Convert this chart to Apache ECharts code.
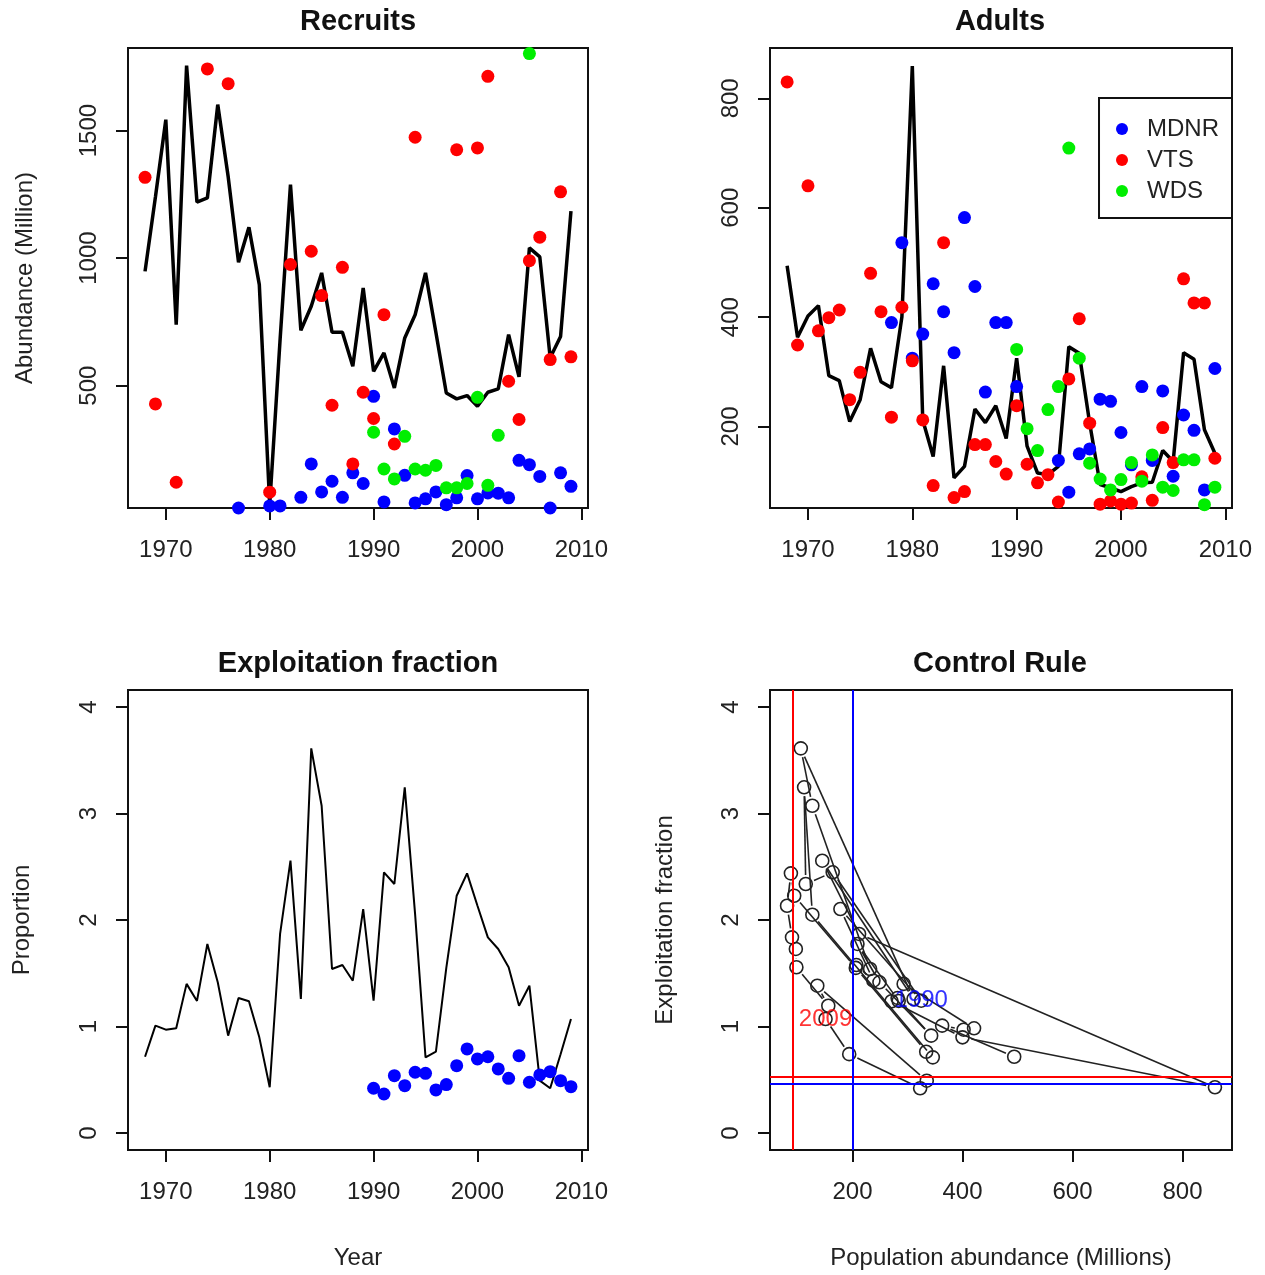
<!DOCTYPE html>
<html>
<head>
<meta charset="utf-8">
<title>Recruits, Adults, Exploitation fraction, Control Rule</title>
<script src="https://cdn.jsdelivr.net/npm/echarts@6.0.0/dist/echarts.min.js"></script>
<style>
    html, body { margin: 0; padding: 0; background: #fff; }
    #echarts { width: 1265px; height: 1275px; }
</style>
</head>
<body>
<div id="echarts"></div>
<script>
var years = [1968, 1969, 1970, 1971, 1972, 1973, 1974, 1975, 1976, 1977, 1978, 1979, 1980, 1981,
    1982, 1983, 1984, 1985, 1986, 1987, 1988, 1989, 1990, 1991, 1992, 1993, 1994, 1995,
    1996, 1997, 1998, 1999, 2000, 2001, 2002, 2003, 2004, 2005, 2006, 2007, 2008, 2009]

// Recruits (million)
var recruitsModel = [948, 1240, 1543, 739, 1755, 1220, 1236, 1602, 1320, 984, 1121, 896, 33, 680,
    1288, 717, 811, 942, 709, 709, 576, 883, 556, 628, 491, 687, 778, 942,
    708, 471, 448, 461, 419, 474, 487, 700, 534, 1040, 1005, 609, 693, 1184]
var recruitsMDNR = [null, null, null, null, null, null, null, null, null, 20, 15, 15, 28, 28,
    18, 62, 193, 83, 125, 62, 158, 116, 458, 44, 330, 148, 40, 56,
    83, 33, 60, 147, 56, 79, 78, 60, 207, 190, 144, 20, 158, 105]
var recruitsVTS = [1317, 428, null, 121, null, null, 1742, null, 1684, null, null, null, 82, null,
    975, null, 1027, 853, 423, 964, 193, 474, 371, 778, 271, null, 1474, null,
    null, null, 1425, 1831, 1432, 1713, null, 517, 367, 990, 1082, 602, 1260, 613]
var recruitsWDS = [null, null, null, null, null, null, null, null, null, null, null, null, null, null,
    null, null, null, null, null, null, null, null, 317, 173, 134, 301, 173, 168,
    187, 99, 99, 116, 454, 109, 305, null, null, 1802, null, null, null, null]

// Adults (million)
var adultsModel = [494, 363, 402, 421, 293, 284, 209, 249, 343, 282, 271, 400, 859, 212,
    145, 311, 106, 127, 232, 207, 238, 178, 325, 164, 115, 112, 127, 346,
    334, 206, 94, 88, 81, 90, 97, 98, 156, 136, 335, 323, 194, 151]
var adultsMDNR = [null, null, null, null, null, null, null, null, null, null, 390, 536, 325, 369,
    461, 410, 335, 582, 456, 263, 390, 390, 273, null, null, null, 138, 80,
    150, 159, 250, 246, 189, 130, 273, 138, 265, 109, 221, 193, 84, 306]
var adultsVTS = [830, 349, 640, 375, 399, 413, 249, 299, 480, 410, 217, 418, 320, 212,
    92, 536, 70, 81, 167, 167, 136, 113, 238, 131, 97, 112, 62, 287,
    397, 206, 58, 64, 58, 60, 108, 65, 198, 134, 470, 426, 426, 142]
var adultsWDS = [null, null, null, null, null, null, null, null, null, null, null, null, null, null,
    null, null, null, null, null, null, null, null, 341, 196, 156, 231, 273, 709,
    325, 133, 104, 84, 103, 134, 100, 148, 89, 83, 139, 139, 57, 89]

// Exploitation fraction
var exploitModel = [0.716, 1.008, 0.97, 0.983, 1.40, 1.24, 1.775, 1.415, 0.914, 1.268, 1.237, 0.898, 0.429, 1.869,
    2.557, 1.258, 3.612, 3.073, 1.54, 1.577, 1.43, 2.103, 1.242, 2.448, 2.338, 3.246, 2.05, 0.71,
    0.763, 1.55, 2.228, 2.438, 2.134, 1.837, 1.728, 1.556, 1.195, 1.383, 0.491, 0.42, 0.74, 1.07]
var exploitMDNR = [null, null, null, null, null, null, null, null, null, null, null, null, null, null,
    null, null, null, null, null, null, null, null, 0.42, 0.366, 0.538, 0.444, 0.57, 0.56,
    0.404, 0.454, 0.632, 0.789, 0.695, 0.716, 0.601, 0.513, 0.726, 0.476, 0.545, 0.576, 0.491, 0.435]

// control rule reference lines
var refAbundance = [91, 200]
var refExploit = [0.529, 0.46]
var refColors = ['#ff0000', '#0000ff']
var labelYears = [2009, 1990]

// tick labels
var yearTicks = [1970, 1980, 1990, 2000, 2010]
var recruitTicks = [500, 1000, 1500]
var adultTicks = [200, 400, 600, 800]
var exploitTicks = [0, 1, 2, 3, 4]
var abundanceTicks = [200, 400, 600, 800]

var font = '"Liberation Sans", Arial, Helvetica, sans-serif'
var chart = echarts.init(document.getElementById('echarts'))

var pairs = function (xs, ys) {
    var res = []
    for (var i = 0; i < xs.length; i++) {
        if (xs[i] == null || ys[i] == null) continue
        res.push([xs[i], ys[i]])
    }
    return res
}

var segments = []
for (var i = 0; i < years.length - 1; i++) {
    segments.push([adultsModel[i], exploitModel[i], adultsModel[i + 1], exploitModel[i + 1]])
}

var axis = function (grid, min, max, ticks, name, gap) {
    return {
        type: 'value',
        gridIndex: grid,
        min: min,
        max: max,
        name: name || '',
        nameLocation: 'middle',
        nameGap: gap || 0,
        nameTextStyle: {fontSize: 24, color: '#222', fontFamily: font},
        splitLine: {show: false},
        axisLine: {show: false, onZero: false},
        axisTick: {show: true, length: 12, customValues: ticks, lineStyle: {color: '#111', width: 2}},
        axisLabel: {
            customValues: ticks,
            fontSize: 24,
            color: '#222',
            fontFamily: font,
            formatter: function (v) { return String(v) }
        }
    }
}

var xAxes = [
    axis(0, 1966.36, 2010.64, yearTicks),
    axis(1, 1966.36, 2010.64, yearTicks),
    axis(2, 1966.36, 2010.64, yearTicks, 'Year', 96),
    axis(3, 50, 890, abundanceTicks, 'Population abundance (Millions)', 96)
]
var yAxes = [
    axis(0, 20, 1824, recruitTicks, 'Abundance (Million)', 91),
    axis(1, 51, 892, adultTicks),
    axis(2, -0.16, 4.16, exploitTicks, 'Proportion', 94),
    axis(3, -0.16, 4.16, exploitTicks, 'Exploitation fraction', 93)
]
xAxes.forEach(function (a) { a.axisLabel.margin = 30 })
yAxes.forEach(function (a) { a.axisLabel.margin = 27; a.axisLabel.rotate = 90 })

var grids = [
    {left: 128, top: 48, width: 460, height: 460},
    {left: 770, top: 48, width: 462, height: 460},
    {left: 128, top: 690, width: 460, height: 460},
    {left: 770, top: 690, width: 462, height: 460}
].map(function (g) {
    g.show = true
    g.borderColor = '#111'
    g.borderWidth = 2
    g.backgroundColor = 'transparent'
    g.outerBoundsMode = 'none'
    return g
})

var titles = [
    ['Recruits', 358, 7], ['Adults', 1000, 7],
    ['Exploitation fraction', 358, 649], ['Control Rule', 1000, 649]
].map(function (t) {
    return {
        text: t[0], left: t[1], top: t[2], textAlign: 'center', padding: 0,
        textStyle: {fontSize: 29, fontWeight: 'bold', color: '#111', fontFamily: font}
    }
})

var dots = function (name, color, grid, ys) {
    return {
        name: name,
        type: 'scatter',
        xAxisIndex: grid,
        yAxisIndex: grid,
        symbol: 'circle',
        symbolSize: 13,
        itemStyle: {color: color, opacity: 1},
        z: 3,
        data: pairs(years, ys)
    }
}

var curve = function (grid, ys, width) {
    return {
        type: 'line',
        xAxisIndex: grid,
        yAxisIndex: grid,
        showSymbol: false,
        lineStyle: {color: '#000', width: width},
        z: 2,
        data: pairs(years, ys)
    }
}

var refLines = []
for (var k = 0; k < refAbundance.length; k++) {
    refLines.push({xAxis: refAbundance[k], lineStyle: {color: refColors[k]}})
    refLines.push({yAxis: refExploit[k], lineStyle: {color: refColors[k]}})
}

var series = [
    curve(0, recruitsModel, 3.5),
    dots('MDNR', '#0000ff', 0, recruitsMDNR),
    dots('VTS', '#ff0000', 0, recruitsVTS),
    dots('WDS', '#00ee00', 0, recruitsWDS),

    curve(1, adultsModel, 3.5),
    dots('MDNR', '#0000ff', 1, adultsMDNR),
    dots('VTS', '#ff0000', 1, adultsVTS),
    dots('WDS', '#00ee00', 1, adultsWDS),

    curve(2, exploitModel, 2),
    dots('MDNR', '#0000ff', 2, exploitMDNR),

    // control rule: lines between years with a gap round each point (R type="b")
    {
        type: 'custom',
        xAxisIndex: 3,
        yAxisIndex: 3,
        encode: {x: [0, 2], y: [1, 3]},
        renderItem: function (params, api) {
            var a = api.coord([api.value(0), api.value(1)])
            var b = api.coord([api.value(2), api.value(3)])
            var dx = b[0] - a[0], dy = b[1] - a[1]
            var len = Math.sqrt(dx * dx + dy * dy)
            var gap = 9
            if (len <= gap * 2) return
            var ux = dx / len, uy = dy / len
            return {
                type: 'line',
                shape: {x1: a[0] + ux * gap, y1: a[1] + uy * gap, x2: b[0] - ux * gap, y2: b[1] - uy * gap},
                style: {stroke: '#222', lineWidth: 1.6}
            }
        },
        z: 2,
        data: segments
    },
    {
        type: 'scatter',
        xAxisIndex: 3,
        yAxisIndex: 3,
        symbol: 'circle',
        symbolSize: 13,
        itemStyle: {color: 'rgba(0,0,0,0)', borderColor: '#222', borderWidth: 1.6, opacity: 1},
        z: 3,
        data: pairs(adultsModel, exploitModel),
        markLine: {
            silent: true,
            symbol: ['none', 'none'],
            label: {show: false},
            lineStyle: {type: 'solid', width: 2},
            data: refLines
        }
    }
]

labelYears.forEach(function (yr, k) {
    var idx = years.indexOf(yr)
    series.push({
        type: 'scatter',
        xAxisIndex: 3,
        yAxisIndex: 3,
        symbolSize: 1,
        itemStyle: {color: 'rgba(0,0,0,0)'},
        z: 4,
        label: {
            show: true,
            position: 'inside',
            formatter: String(yr),
            fontSize: 24,
            color: refColors[k],
            fontFamily: font
        },
        data: [[adultsModel[idx], exploitModel[idx]]]
    })
})

var option = {
    animation: false,
    backgroundColor: '#fff',
    title: titles,
    grid: grids,
    xAxis: xAxes,
    yAxis: yAxes,
    legend: {
        data: ['MDNR', 'VTS', 'WDS'],
        orient: 'vertical',
        right: 33,
        top: 98,
        icon: 'circle',
        itemWidth: 12,
        itemHeight: 12,
        itemGap: 7,
        padding: [19, 13, 15, 17],
        borderColor: '#111',
        borderWidth: 2,
        backgroundColor: '#fff',
        selectedMode: false,
        textStyle: {fontSize: 24, color: '#222', fontFamily: font, padding: [0, 0, 0, 14]}
    },
    series: series
}

chart.setOption(option)
</script>
</body>
</html>
